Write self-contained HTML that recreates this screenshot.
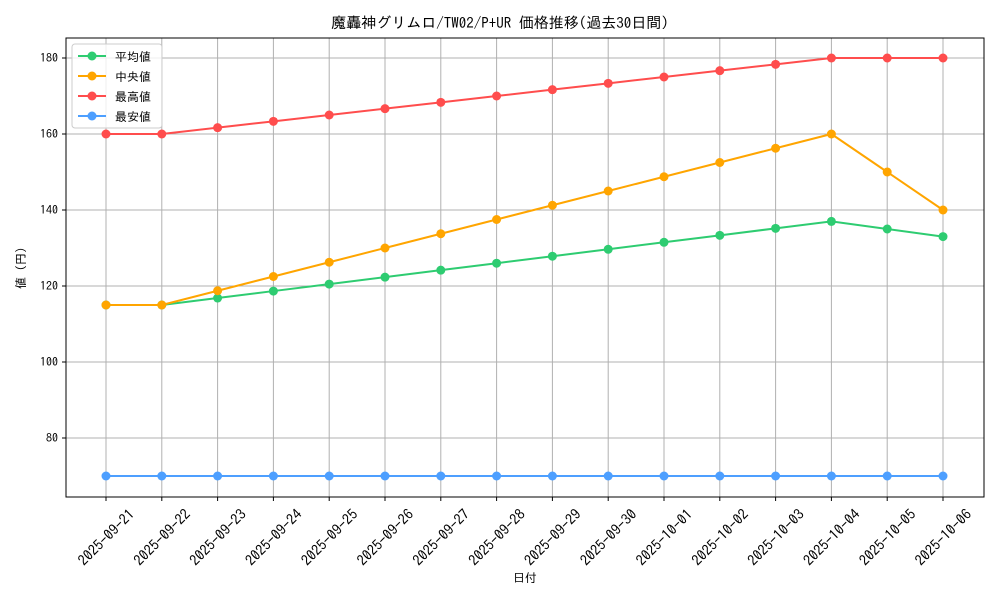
<!DOCTYPE html>
<html><head><meta charset="utf-8"><style>
body{margin:0;background:#fff;}
text{font-family:"IPAGothic","Noto Sans CJK JP",sans-serif;fill:#000;}
</style></head><body>
<svg width="1000" height="600" xmlns="http://www.w3.org/2000/svg">
<rect width="1000" height="600" fill="#fff"/>
<g id="grid" stroke="#b0b0b0" stroke-width="1"></g>
<rect x="66" y="38" width="918" height="459" fill="none" stroke="#000" stroke-width="1"/>
<g id="ticks"></g>
<g id="series"></g>
<text x="500" y="28" text-anchor="middle" font-size="15">魔轟神グリムロ/TW02/P+UR 価格推移(過去30日間)</text>
<text x="525" y="582" text-anchor="middle" font-size="12">日付</text>
<text transform="translate(25,268) rotate(-90)" text-anchor="middle" font-size="12">値 (円)</text>
<g>
<rect x="72" y="44" width="90" height="84" rx="3" fill="#fff" fill-opacity="0.8" stroke="#ccc"/>
<line x1="78" x2="106" y1="56" y2="56" stroke="#2ecc71" stroke-width="2"/><circle cx="92" cy="56" r="4.5" fill="#2ecc71"/><text x="115" y="61" font-size="12">平均値</text>
<line x1="78" x2="106" y1="76" y2="76" stroke="#ffa500" stroke-width="2"/><circle cx="92" cy="76" r="4.5" fill="#ffa500"/><text x="115" y="81" font-size="12">中央値</text>
<line x1="78" x2="106" y1="96" y2="96" stroke="#ff4d4d" stroke-width="2"/><circle cx="92" cy="96" r="4.5" fill="#ff4d4d"/><text x="115" y="101" font-size="12">最高値</text>
<line x1="78" x2="106" y1="116" y2="116" stroke="#4d9fff" stroke-width="2"/><circle cx="92" cy="116" r="4.5" fill="#4d9fff"/><text x="115" y="121" font-size="12">最安値</text>
</g>
</svg>
<script>
const ns="http://www.w3.org/2000/svg";
function el(p,t,a,txt){const e=document.createElementNS(ns,t);for(const k in a)e.setAttribute(k,a[k]);if(txt)e.textContent=txt;document.querySelector(p).appendChild(e);return e;}
const X=i=>106+i*55.8, Y=v=>58+(180-v)*3.8;
const dates=["2025-09-21","2025-09-22","2025-09-23","2025-09-24","2025-09-25","2025-09-26","2025-09-27","2025-09-28","2025-09-29","2025-09-30","2025-10-01","2025-10-02","2025-10-03","2025-10-04","2025-10-05","2025-10-06"];
dates.forEach((d,i)=>{const x=X(i);
el("#grid","line",{x1:x,x2:x,y1:38,y2:497});
el("#ticks","line",{x1:x,x2:x,y1:497,y2:501,stroke:"#000"});
el("#ticks","text",{transform:`translate(${x},${537}) rotate(-45)`,"text-anchor":"middle","dominant-baseline":"central","font-size":"14.5"},d);});
[80,100,120,140,160,180].forEach(v=>{const y=Y(v);
el("#grid","line",{x1:66,x2:984,y1:y,y2:y});
el("#ticks","line",{x1:62,x2:66,y1:y,y2:y,stroke:"#000"});
el("#ticks","text",{x:58,y:y+4,"text-anchor":"end","font-size":"12"},String(v));});
const avg=[],med=[],mx=[],mn=[];
for(let i=0;i<16;i++){
 if(i<=1){avg.push(115);med.push(115);mx.push(160);}
 else if(i<=13){avg.push(115+(i-1)*22/12);med.push(115+(i-1)*45/12);mx.push(160+(i-1)*20/12);}
 mn.push(70);}
avg.push(135,133);med.push(150,140);mx.push(180,180);
[[avg,"#2ecc71"],[med,"#ffa500"],[mx,"#ff4d4d"],[mn,"#4d9fff"]].forEach(([d,c])=>{
 el("#series","polyline",{points:d.map((v,i)=>X(i)+","+Y(v)).join(" "),fill:"none",stroke:c,"stroke-width":"2"});
 d.forEach((v,i)=>el("#series","circle",{cx:X(i),cy:Y(v),r:4.5,fill:c}));});
</script>
</body></html>
